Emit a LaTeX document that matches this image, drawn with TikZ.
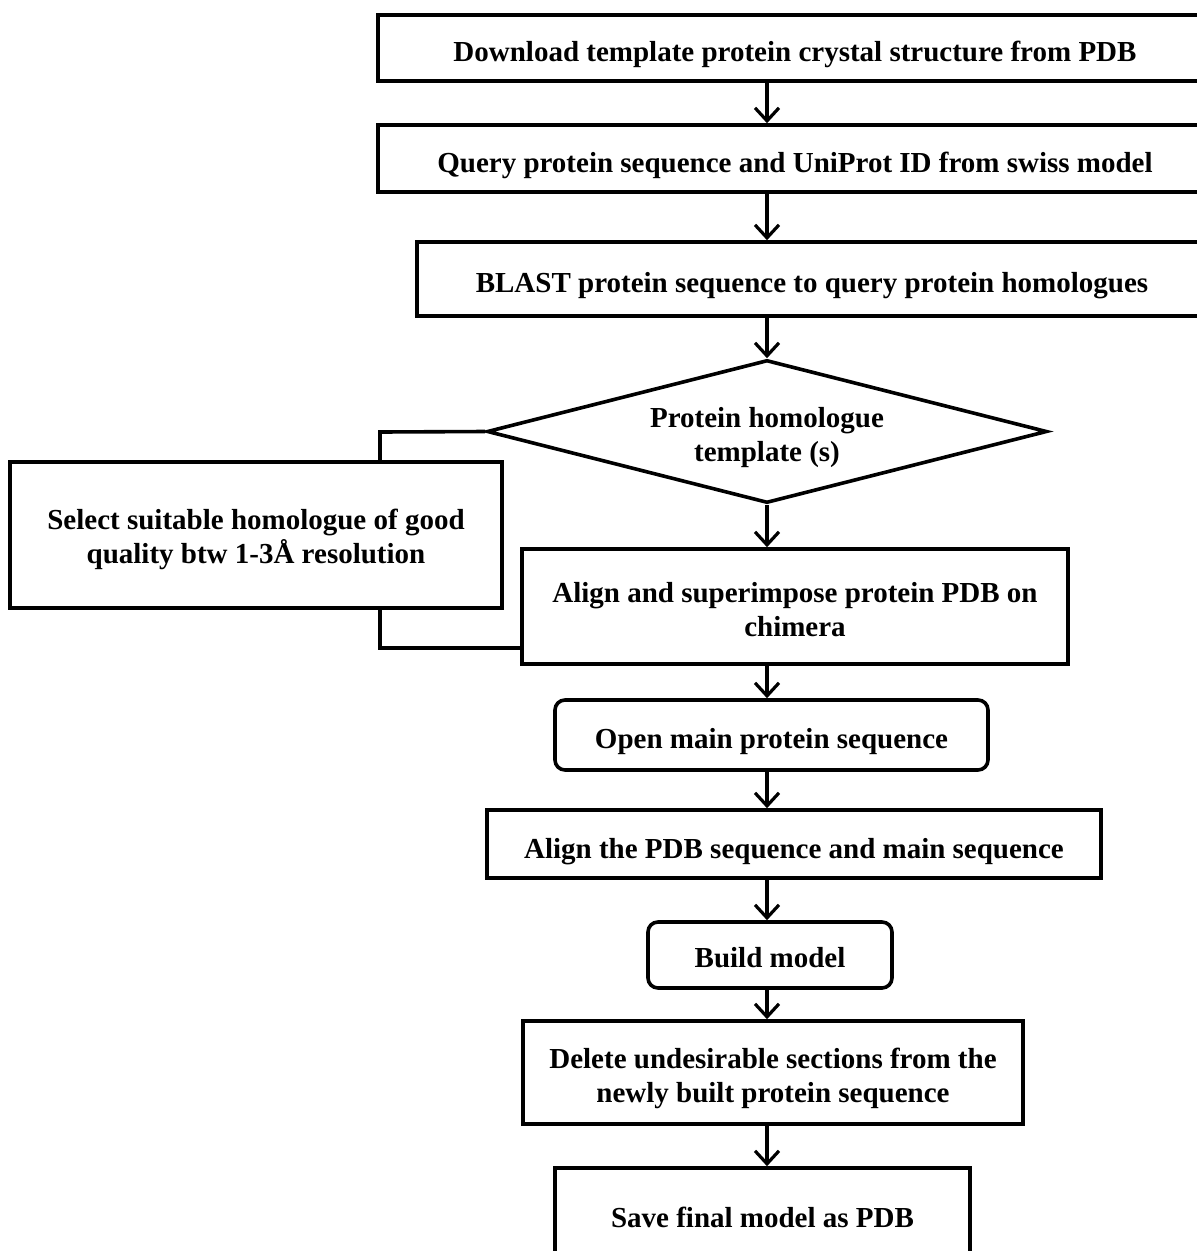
\documentclass[tikz,border=0pt]{standalone}
\usepackage{fontspec}
\setmainfont{Liberation Serif}
\usetikzlibrary{shapes.geometric,arrows.meta,backgrounds}
\newcommand\flowtext[2][6]{\raisebox{-#1pt}[\height][\depth]{\begin{tabular}{@{}c@{}}#2\end{tabular}}}
\begin{document}
\begin{tikzpicture}[x=1pt,y=-1pt,
  every node/.style={font=\fontsize{29}{34}\selectfont\bfseries, inner sep=0pt},
  boxstyle/.style={draw, line width=3.6pt, fill=white, rectangle},
  roundbox/.style={boxstyle, rounded corners=10pt},
  decision/.style={draw, line width=3.6pt, fill=white, diamond, aspect=3.9},
  arr/.style={line width=3.2pt, -{Straight Barb[length=13pt,width=24pt,line width=3.2pt]}},
  link/.style={line width=3.6pt}
]
\useasboundingbox (0,0) rectangle (1197,1251);
\clip (0,0) rectangle (1197,1251);

\node[boxstyle, minimum width=834pt, minimum height=66pt] (b1) at (795,48) {\flowtext[7]{Download template protein crystal structure from PDB}};
\node[boxstyle, minimum width=834pt, minimum height=67pt] (b2) at (795,158.5) {\flowtext[7]{Query protein sequence and UniProt ID from swiss model}};
\node[boxstyle, minimum width=790pt, minimum height=74pt] (b3) at (812,279) {\flowtext[7]{BLAST protein sequence to query protein homologues}};
\node[decision, minimum width=560pt, minimum height=143pt] (dia) at (767,431.5) {\flowtext{Protein homologue\\template (s)}};
\node[boxstyle, minimum width=492pt, minimum height=146pt] (sel) at (256,535) {\flowtext[5]{Select suitable homologue of good\\quality btw 1-3Å resolution}};
\node[boxstyle, minimum width=546pt, minimum height=115pt] (aln) at (795,606.5) {\flowtext[6]{Align and superimpose protein PDB on\\chimera}};
\node[roundbox, minimum width=433pt, minimum height=70pt] (open) at (771.5,735) {\flowtext[7]{Open main protein sequence}};
\node[boxstyle, minimum width=614pt, minimum height=68pt] (apdb) at (794,844) {\flowtext[8]{Align the PDB sequence and main sequence}};
\node[roundbox, minimum width=244pt, minimum height=66pt] (build) at (770,955) {\flowtext[6]{Build model}};
\node[boxstyle, minimum width=500pt, minimum height=103pt] (del) at (773,1072.5) {\flowtext[6]{Delete undesirable sections from the\\newly built protein sequence}};
\node[boxstyle, minimum width=415pt, minimum height=98pt] (save) at (762.5,1217) {\flowtext[4]{Save final model as PDB}};

\coordinate (c1) at (380,432);
\coordinate (c2) at (380,648);

\begin{scope}[on background layer]
  \fill[white] (0,0) rectangle (1197,1251);
  \draw[link] (dia.west) -- (c1) -- (c2) -- (c2 -| aln.west);
\end{scope}

\draw[arr] (b1.south -| dia.north) -- (b2.north -| dia.north);
\draw[arr] (b2.south -| dia.north) -- (b3.north -| dia.north);
\draw[arr] (b3.south -| dia.north) -- (dia.north);
\draw[arr] (dia.south) -- (aln.north -| dia.south);
\draw[arr] (aln.south -| dia.north) -- (open.north -| dia.north);
\draw[arr] (open.south -| dia.north) -- (apdb.north -| dia.north);
\draw[arr] (apdb.south -| dia.north) -- (build.north -| dia.north);
\draw[arr] (build.south -| dia.north) -- (del.north -| dia.north);
\draw[arr] (del.south -| dia.north) -- (save.north -| dia.north);
\end{tikzpicture}
\end{document}
